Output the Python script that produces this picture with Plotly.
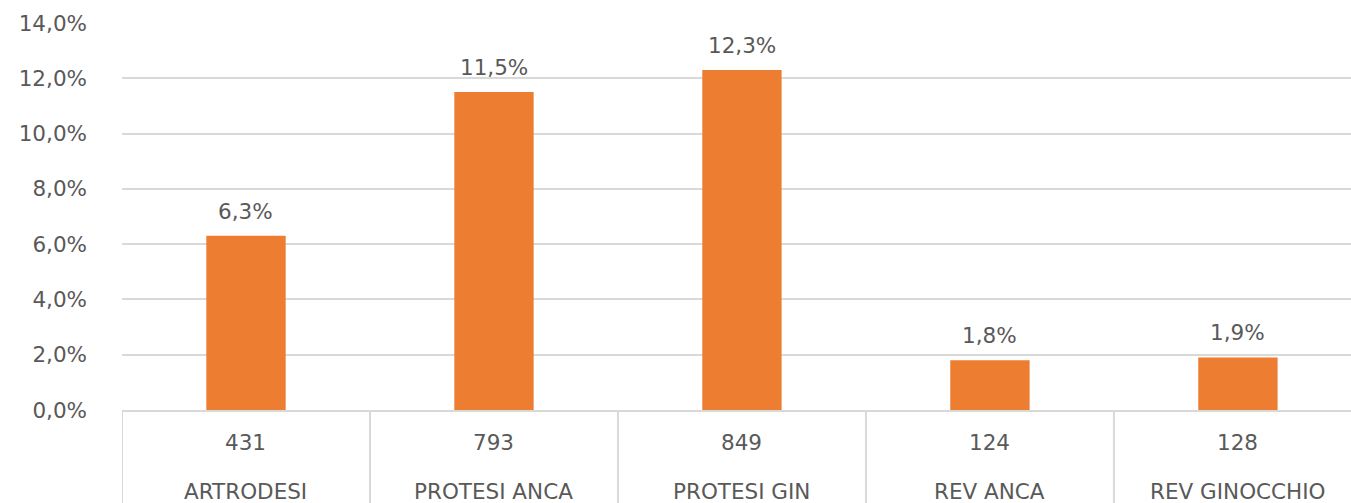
import plotly.graph_objects as go

# dati
categorie = ["ARTRODESI", "PROTESI ANCA", "PROTESI GIN", "REV ANCA", "REV GINOCCHIO"]
casi = [431, 793, 849, 124, 128]
percentuali = [0.063, 0.115, 0.123, 0.018, 0.019]

BAR_COLOR = "#ED7D31"
GRID_COLOR = "#D9D9D9"
TEXT_COLOR = "#595959"
FONT = "DejaVu Sans"
FSIZE = 21.5

fig = go.Figure()

fig.add_trace(go.Bar(
    x=categorie,
    y=percentuali,
    marker=dict(color=BAR_COLOR, line=dict(width=0)),
    width=0.32,
    hoverinfo="skip",
    showlegend=False,
))

# etichette sopra le barre
for cat, val in zip(categorie, percentuali):
    fig.add_annotation(
        x=cat, y=val, xref="x", yref="y",
        text=f"{val * 100:.1f}%".replace(".", ","),
        showarrow=False, yanchor="bottom", yshift=10,
        font=dict(family=FONT, size=FSIZE, color=TEXT_COLOR),
    )

# tabella sotto l'asse: numero casi + nome categoria
for cat, n in zip(categorie, casi):
    fig.add_annotation(
        x=cat, y=-0.085, xref="x", yref="paper",
        text=str(n), showarrow=False, yanchor="middle",
        font=dict(family=FONT, size=FSIZE, color=TEXT_COLOR),
    )
    fig.add_annotation(
        x=cat, y=-0.21, xref="x", yref="paper",
        text=cat, showarrow=False, yanchor="middle",
        font=dict(family=FONT, size=FSIZE, color=TEXT_COLOR),
    )

# linee verticali della tabella
for i in range(len(categorie) + 1):
    fig.add_shape(
        type="line", xref="x", yref="paper",
        x0=i - 0.5, x1=i - 0.5, y0=0, y1=-0.3,
        line=dict(color=GRID_COLOR, width=2),
    )

fig.update_layout(
    width=1351, height=503,
    margin=dict(l=122, r=0, t=23, b=93),
    paper_bgcolor="white", plot_bgcolor="white",
    separators=",.",
    font=dict(family=FONT, size=FSIZE, color=TEXT_COLOR),
    xaxis=dict(
        showticklabels=False, showgrid=False, zeroline=False,
        showline=True, linecolor=GRID_COLOR, linewidth=2,
        range=[-0.5, 4.456],
    ),
    yaxis=dict(
        range=[0, 0.14], dtick=0.02, tickformat=".1%",
        showgrid=True, gridcolor=GRID_COLOR, gridwidth=2,
        zeroline=False, showline=False,
        ticklabelstandoff=34,
        tickfont=dict(family=FONT, size=FSIZE, color=TEXT_COLOR),
    ),
)

# niente margine del body né barre di scorrimento
fig.write_html(
    "out.html",
    config={"displayModeBar": False},
    post_script="document.body.style.margin='0';"
                "document.body.style.overflow='hidden';"
                "document.documentElement.style.overflow='hidden';",
)
